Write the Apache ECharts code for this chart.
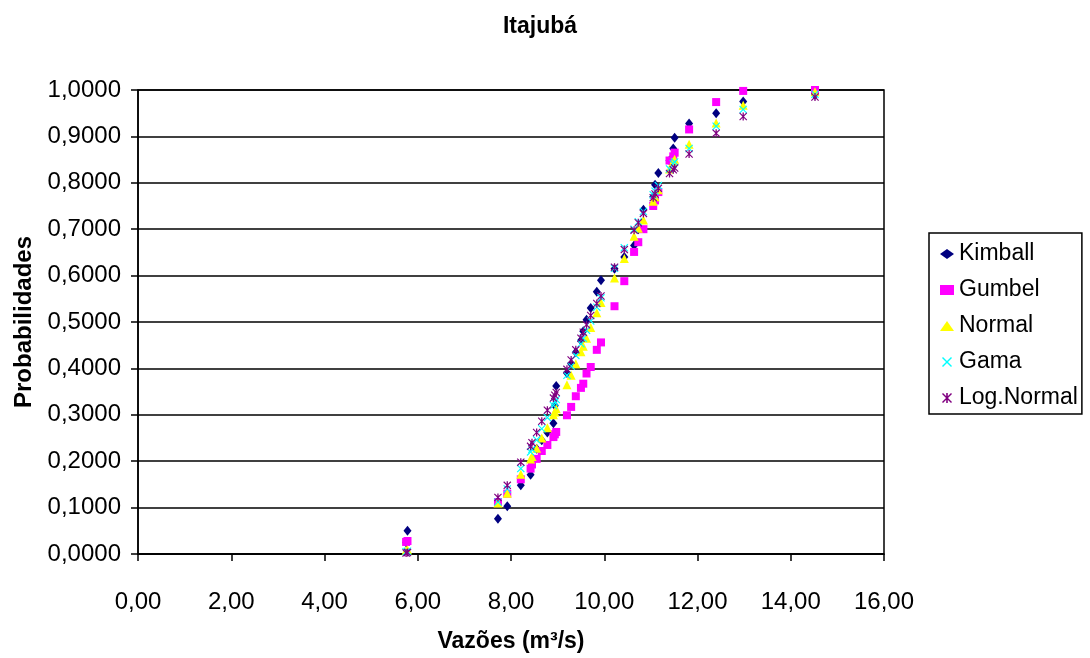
<!DOCTYPE html>
<html><head><meta charset="utf-8">
<script src="https://cdn.jsdelivr.net/npm/echarts/dist/echarts.min.js"></script>
<style>html,body{margin:0;padding:0;background:#fff}#c{width:1090px;height:658px}</style>
</head><body><div id="c"></div>
<script>
const vazoes = [5.75, 5.78, 7.72, 7.92, 8.21, 8.42, 8.45, 8.55, 8.66, 8.78, 8.91, 8.94, 8.97, 9.20, 9.29, 9.39, 9.50, 9.55, 9.62, 9.71, 9.84, 9.93, 10.22, 10.43, 10.64, 10.73, 10.84, 11.05, 11.09, 11.16, 11.40, 11.48, 11.51, 11.82, 12.40, 12.98, 14.52];
const kimball = [0.025, 0.050, 0.076, 0.103, 0.148, 0.171, 0.195, 0.227, 0.245, 0.262, 0.282, 0.320, 0.362, 0.390, 0.410, 0.435, 0.460, 0.480, 0.505, 0.530, 0.565, 0.590, 0.615, 0.640, 0.665, 0.700, 0.742, 0.770, 0.796, 0.821, 0.848, 0.874, 0.897, 0.928, 0.950, 0.975, 0.990];
const gumbel = [0.026, 0.028, 0.112, 0.130, 0.161, 0.184, 0.193, 0.205, 0.222, 0.235, 0.252, 0.258, 0.263, 0.299, 0.317, 0.340, 0.358, 0.367, 0.389, 0.403, 0.440, 0.456, 0.534, 0.588, 0.651, 0.672, 0.700, 0.750, 0.762, 0.780, 0.848, 0.857, 0.865, 0.915, 0.974, 0.998, 1.000];
const normal = [0.008, 0.009, 0.110, 0.131, 0.172, 0.205, 0.210, 0.228, 0.250, 0.272, 0.300, 0.306, 0.313, 0.365, 0.385, 0.410, 0.436, 0.448, 0.465, 0.488, 0.520, 0.542, 0.595, 0.637, 0.685, 0.702, 0.720, 0.760, 0.770, 0.785, 0.830, 0.846, 0.851, 0.883, 0.929, 0.967, 0.996];
const gama = [0.005, 0.006, 0.112, 0.140, 0.184, 0.220, 0.226, 0.246, 0.270, 0.294, 0.320, 0.327, 0.333, 0.385, 0.405, 0.428, 0.453, 0.465, 0.482, 0.502, 0.532, 0.552, 0.616, 0.660, 0.700, 0.716, 0.738, 0.774, 0.782, 0.794, 0.830, 0.841, 0.845, 0.874, 0.922, 0.958, 0.991];
const logNormal = [0.002, 0.003, 0.122, 0.148, 0.198, 0.232, 0.240, 0.262, 0.286, 0.310, 0.336, 0.342, 0.348, 0.398, 0.418, 0.440, 0.465, 0.478, 0.494, 0.514, 0.540, 0.556, 0.618, 0.656, 0.698, 0.714, 0.734, 0.768, 0.776, 0.788, 0.820, 0.828, 0.832, 0.862, 0.907, 0.943, 0.985];
const seriesNames = ['Kimball', 'Gumbel', 'Normal', 'Gama', 'Log.Normal'];
const title = 'Itajubá';
const xName = 'Vazões (m³/s)';
const yName = 'Probabilidades';

const FONT = "'Liberation Sans',Arial,sans-serif";
const X_PATH = 'path://M0,1 L1,0 L5,4 L9,0 L10,1 L6,5 L10,9 L9,10 L5,6 L1,10 L0,9 L4,5 Z';
const STAR_PATH = 'path://M0,1 L1,0 L5,4 L9,0 L10,1 L6,5 L10,9 L9,10 L5,6 L1,10 L0,9 L4,5 Z M4.2,0 L5.8,0 L5.8,10 L4.2,10 Z';
const styles = [
  {symbol: 'diamond', size: [8, 10], color: '#000080'},
  {symbol: 'rect', size: 8, color: '#FF00FF'},
  {symbol: 'triangle', size: 9, color: '#FFFF00'},
  {symbol: X_PATH, size: 8, color: '#00FFFF'},
  {symbol: STAR_PATH, size: 8, color: '#800080'}
];
const values = [kimball, gumbel, normal, gama, logNormal];

const chart = echarts.init(document.getElementById('c'), null, {renderer: 'canvas'});
chart.setOption({
  animation: false,
  backgroundColor: '#fff',
  title: {text: title, left: 535, top: 10, textAlign: 'center',
    textStyle: {fontFamily: FONT, fontSize: 23, fontWeight: 'bold', color: '#000'}},
  grid: {left: 138, right: 206, top: 90, bottom: 104, containLabel: false, outerBoundsMode: 'none',
    show: true, borderColor: '#000', borderWidth: 1.5, backgroundColor: '#fff'},
  legend: {
    orient: 'vertical', left: 929, top: 233,
    padding: [9, 4, 4, 11], itemGap: 12, itemWidth: 14, itemHeight: 10,
    borderColor: '#000', borderWidth: 1.5,
    textStyle: {fontFamily: FONT, fontSize: 23, color: '#000', lineHeight: 24},
    data: seriesNames
  },
  xAxis: {
    type: 'value', min: 0, max: 16, interval: 2,
    name: xName, nameLocation: 'middle', nameGap: 76,
    nameTextStyle: {fontFamily: FONT, fontSize: 23, fontWeight: 'bold', color: '#000'},
    axisLine: {lineStyle: {color: '#000', width: 1.5}},
    axisTick: {show: true, length: 7, lineStyle: {color: '#000', width: 1.5}},
    axisLabel: {margin: 36, fontFamily: FONT, fontSize: 24, color: '#000',
      formatter: v => v.toFixed(2).replace('.', ',')},
    splitLine: {show: false}
  },
  yAxis: {
    type: 'value', min: 0, max: 1, interval: 0.1,
    name: yName, nameLocation: 'middle', nameGap: 90,
    nameTextStyle: {fontFamily: FONT, fontSize: 24, fontWeight: 'bold', color: '#000'},
    axisLine: {lineStyle: {color: '#000', width: 1.5}},
    axisTick: {show: true, length: 7, lineStyle: {color: '#000', width: 1.5}},
    axisLabel: {margin: 17, fontFamily: FONT, fontSize: 24, color: '#000',
      formatter: v => v.toFixed(4).replace('.', ',')},
    splitLine: {show: true, lineStyle: {color: '#000', width: 1.5}}
  },
  series: seriesNames.map((name, k) => ({
    name: name, type: 'scatter',
    symbol: styles[k].symbol, symbolSize: styles[k].size,
    itemStyle: {color: styles[k].color, opacity: 1},
    emphasis: {disabled: true},
    data: vazoes.map((v, i) => [v, values[k][i]])
  }))
});
</script>
</body></html>
